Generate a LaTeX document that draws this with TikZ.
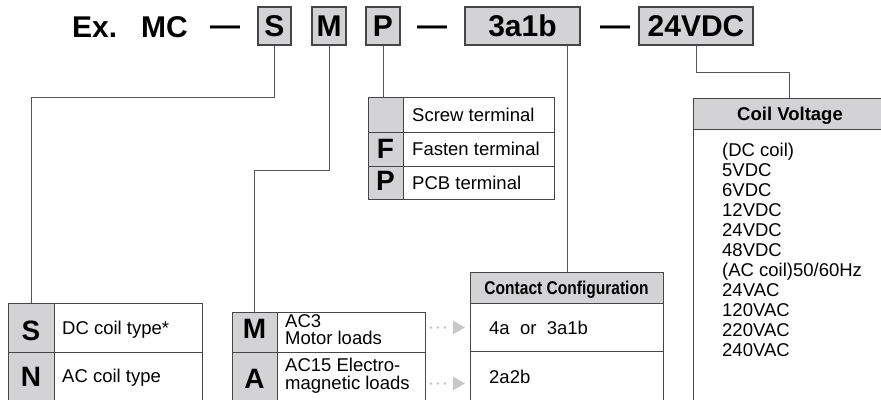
\documentclass[tikz,border=0pt]{standalone}
\usepackage{fontspec}
\setmainfont{Liberation Sans}
\usetikzlibrary{calc}
\definecolor{cellgray}{RGB}{211,211,213}
\definecolor{edgegray}{RGB}{70,70,70}
\definecolor{linegray}{RGB}{85,85,85}
\definecolor{dotgray}{RGB}{200,200,202}
\begin{document}
\begin{tikzpicture}[x=1pt,y=-1pt,
  codebox/.style={draw=edgegray, fill=cellgray, line width=1.2pt, inner sep=0pt,
    minimum height=38pt, font=\fontsize{30}{32}\selectfont\bfseries},
  topword/.style={inner sep=0pt, font=\fontsize{30}{32}\selectfont\bfseries, anchor=base west},
  cell/.style={draw=edgegray, line width=0.9pt, inner sep=0pt, anchor=north west},
  graycell/.style={cell, fill=cellgray},
  letter/.style={font=\fontsize{28}{30}\selectfont\bfseries, inner sep=0pt, anchor=base},
  body/.style={font=\fontsize{18.5}{20}\selectfont, inner sep=0pt, anchor=base west},
  head/.style={font=\fontsize{18.5}{20}\selectfont\bfseries, inner sep=0pt, anchor=base},
  conn/.style={draw=linegray, line width=1pt},
  dotrow/.style={dotgray, line width=3pt, dash pattern=on 0pt off 7pt, line cap=round},
  ]
\useasboundingbox (0,0) rectangle (881,399);

% ---------- top row ----------
\node[topword] (ex) at (72,37) {Ex.};
\node[topword] (mc) at (141,37) {MC};
\node[topword] (d1) at (210,35) {—};
\node[codebox, minimum width=33pt] (s) at (274.5,26) {S};
\node[codebox, minimum width=34pt] (m) at (329,26) {M};
\node[codebox, minimum width=34pt] (p) at (383,26) {P};
\node[topword] (d2) at (417,35) {—};
\node[codebox, minimum width=115pt] (c) at (522.5,26) {3a1b};
\node[topword] (d3) at (600,35) {—};
\node[codebox, minimum width=114pt] (v) at (696,26) {24VDC};

% ---------- terminal table (P) ----------
\node[graycell, minimum width=35pt, minimum height=35pt] (p1g) at (368,97) {};
\node[cell, minimum width=151pt, minimum height=35pt] (p1w) at (403,97) {};
\node[graycell, minimum width=35pt, minimum height=34pt] (p2g) at (368,132) {};
\node[cell, minimum width=151pt, minimum height=34pt] (p2w) at (403,132) {};
\node[graycell, minimum width=35pt, minimum height=33pt] (p3g) at (368,166) {};
\node[cell, minimum width=151pt, minimum height=33pt] (p3w) at (403,166) {};
\node[body] (pt1) at (412,121) {Screw terminal};
\node[letter] (pl2) at (385.5,158.5) {F};
\node[body] (pt2) at (412,155.5) {Fasten terminal};
\node[letter] (pl3) at (385.5,190) {P};
\node[body] (pt3) at (412,189) {PCB terminal};

% ---------- coil type table (S) ----------
\node[graycell, minimum width=46pt, minimum height=49pt] (s1g) at (8,303) {};
\node[cell, minimum width=148pt, minimum height=49pt] (s1w) at (54,303) {};
\node[graycell, minimum width=46pt, minimum height=60pt] (s2g) at (8,352) {};
\node[cell, minimum width=148pt, minimum height=60pt] (s2w) at (54,352) {};
\node[letter] (sl1) at (31,340) {S};
\node[body] (st1) at (62,334) {DC coil type*};
\node[letter] (sl2) at (31,386) {N};
\node[body] (st2) at (62,382.5) {AC coil type};

% ---------- load table (M) ----------
\node[graycell, minimum width=45pt, minimum height=40pt] (m1g) at (232,312) {};
\node[cell, minimum width=148pt, minimum height=40pt] (m1w) at (277,312) {};
\node[graycell, minimum width=45pt, minimum height=60pt] (m2g) at (232,352) {};
\node[cell, minimum width=148pt, minimum height=60pt] (m2w) at (277,352) {};
\node[letter] (ml1) at (254.5,338) {M};
\node[body] (mt1a) at (285,327) {AC3};
\node[body] (mt1b) at (285,344) {Motor loads};
\node[letter] (ml2) at (254.5,388) {A};
\node[body] (mt2a) at (285,371.5) {AC15 Electro-};
\node[body] (mt2b) at (285,389.5) {magnetic loads};

% ---------- contact configuration ----------
\node[graycell, minimum width=193pt, minimum height=31pt] (cch) at (470,272) {};
\node[cell, minimum width=193pt, minimum height=48pt] (cc1) at (470,303) {};
\node[cell, minimum width=193pt, minimum height=60pt] (cc2) at (470,351) {};
\node[head] (cct) at (566.5,294) {\scalebox{0.84}[1]{Contact Configuration}};
\node[body] (cc1t) at (489,334.5) {4a\ \ or\ \ 3a1b};
\node[body] (cc2t) at (489,383.5) {2a2b};

% ---------- coil voltage ----------
\node[graycell, minimum width=210pt, minimum height=31pt] (cvh) at (693,98) {};
\node[cell, minimum width=210pt, minimum height=290pt] (cvb) at (693,129) {};
\node[head] (cvt) at (790,120.6) {Coil Voltage};
\foreach \t [count=\i] in {{(DC coil)},5VDC,6VDC,12VDC,24VDC,48VDC,{(AC coil)50/60Hz},24VAC,120VAC,220VAC,240VAC}
  \node[body, name=cvl\i] at (722,136.6+20*\i) {\t};

% ---------- connectors ----------
\coordinate (sj) at (0,97);
\coordinate (mj) at (0,170);
\coordinate (vj) at (0,72);
\coordinate (cvin) at ([xshift=96pt]cvh.north west);
\coordinate (cout) at ([xshift=-13pt]c.south east);
\draw[conn] (s.south) |- (s1g.north |- sj) -- (s1g.north);
\draw[conn] (m.south) |- (m1g.north |- mj) -- (m1g.north);
\draw[conn] (p.south) -- (p.south |- p1g.north);
\draw[conn] (cout) -- (cout |- cch.north);
\draw[conn] (v.south) |- (cvin |- vj) -- (cvin);

% ---------- dotted arrows ----------
\coordinate (a1s) at ([xshift=5pt]m1w.east |- cc1.west);
\coordinate (a2s) at ([xshift=5pt]m1w.east |- cc2.west);
\draw[dotrow] (a1s) -- ++(20,0);
\fill[dotgray] ([xshift=22pt,yshift=7pt]a1s) -- ([xshift=34pt]a1s) -- ([xshift=22pt,yshift=-7pt]a1s) -- cycle;
\coordinate (a2m) at ([yshift=-2pt]a2s);
\draw[dotrow] (a2m) -- ++(20,0);
\fill[dotgray] ([xshift=22pt,yshift=7pt]a2m) -- ([xshift=34pt]a2m) -- ([xshift=22pt,yshift=-7pt]a2m) -- cycle;
\end{tikzpicture}
\end{document}
